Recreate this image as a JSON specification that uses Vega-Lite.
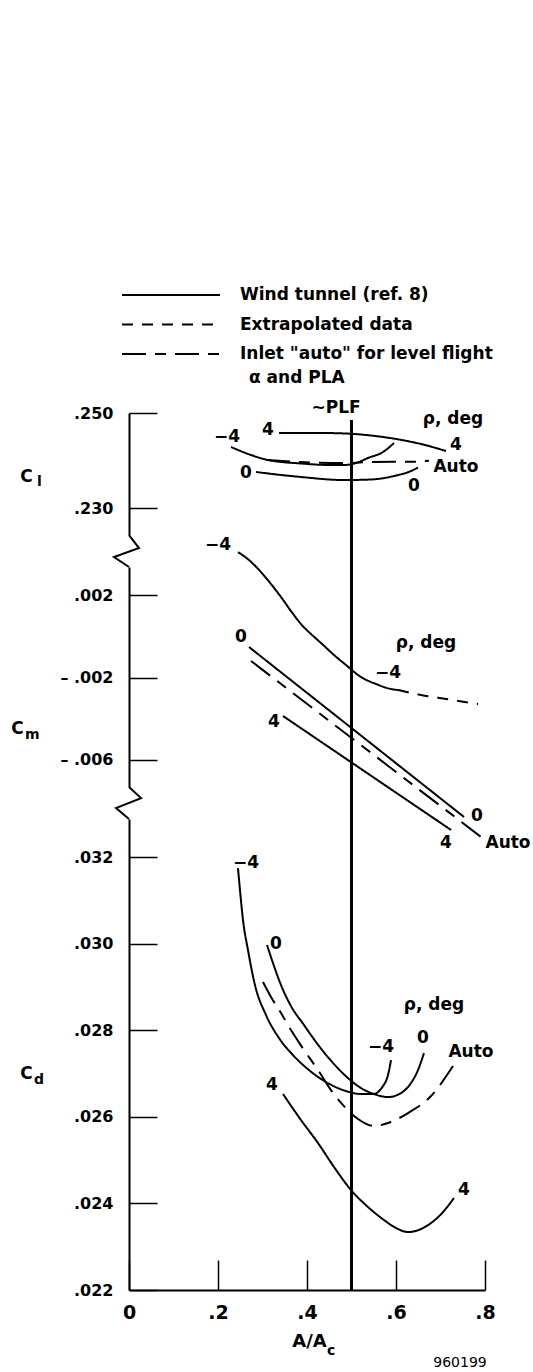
{
  "$schema": "https://vega.github.io/schema/vega-lite/v6.json",
  "padding": {"left": 10, "top": 284, "right": 0, "bottom": 0},
  "autosize": {"type": "pad"},
  "spacing": 32,
  "bounds": "flush",
  "resolve": {"scale": {"strokeDash": "independent"}, "legend": {"strokeDash": "independent"}},
  "datasets": {
    "cl": [
      {"curve": "p4", "style": "Wind tunnel (ref. 8)", "x": 0.3371, "y": 0.24579},
      {"curve": "p4", "style": "Wind tunnel (ref. 8)", "x": 0.3865, "y": 0.24579},
      {"curve": "p4", "style": "Wind tunnel (ref. 8)", "x": 0.4315, "y": 0.24579},
      {"curve": "p4", "style": "Wind tunnel (ref. 8)", "x": 0.4876, "y": 0.24568},
      {"curve": "p4", "style": "Wind tunnel (ref. 8)", "x": 0.5438, "y": 0.24526},
      {"curve": "p4", "style": "Wind tunnel (ref. 8)", "x": 0.6, "y": 0.24453},
      {"curve": "p4", "style": "Wind tunnel (ref. 8)", "x": 0.6562, "y": 0.24347},
      {"curve": "p4", "style": "Wind tunnel (ref. 8)", "x": 0.7124, "y": 0.242},
      {"curve": "m4", "style": "Wind tunnel (ref. 8)", "x": 0.2292, "y": 0.24284},
      {"curve": "m4", "style": "Wind tunnel (ref. 8)", "x": 0.2742, "y": 0.24116},
      {"curve": "m4", "style": "Wind tunnel (ref. 8)", "x": 0.3124, "y": 0.24011},
      {"curve": "m4", "style": "Wind tunnel (ref. 8)", "x": 0.3865, "y": 0.23937},
      {"curve": "m4", "style": "Wind tunnel (ref. 8)", "x": 0.4539, "y": 0.23905},
      {"curve": "m4", "style": "Wind tunnel (ref. 8)", "x": 0.4831, "y": 0.23905},
      {"curve": "m4", "style": "Wind tunnel (ref. 8)", "x": 0.5101, "y": 0.23947},
      {"curve": "m4", "style": "Wind tunnel (ref. 8)", "x": 0.5371, "y": 0.24053},
      {"curve": "m4", "style": "Wind tunnel (ref. 8)", "x": 0.5708, "y": 0.24179},
      {"curve": "m4", "style": "Wind tunnel (ref. 8)", "x": 0.5955, "y": 0.24368},
      {"curve": "auto", "style": "Inlet \"auto\" for level flight", "x": 0.3079, "y": 0.24011},
      {"curve": "auto", "style": "Inlet \"auto\" for level flight", "x": 0.3865, "y": 0.23968},
      {"curve": "auto", "style": "Inlet \"auto\" for level flight", "x": 0.4876, "y": 0.23947},
      {"curve": "auto", "style": "Inlet \"auto\" for level flight", "x": 0.5438, "y": 0.23968},
      {"curve": "auto", "style": "Inlet \"auto\" for level flight", "x": 0.6404, "y": 0.23975},
      {"curve": "auto", "style": "Inlet \"auto\" for level flight", "x": 0.6742, "y": 0.23996},
      {"curve": "z0", "style": "Wind tunnel (ref. 8)", "x": 0.2854, "y": 0.23758},
      {"curve": "z0", "style": "Wind tunnel (ref. 8)", "x": 0.3416, "y": 0.23695},
      {"curve": "z0", "style": "Wind tunnel (ref. 8)", "x": 0.3865, "y": 0.23653},
      {"curve": "z0", "style": "Wind tunnel (ref. 8)", "x": 0.4831, "y": 0.23589},
      {"curve": "z0", "style": "Wind tunnel (ref. 8)", "x": 0.5438, "y": 0.236},
      {"curve": "z0", "style": "Wind tunnel (ref. 8)", "x": 0.5955, "y": 0.23674},
      {"curve": "z0", "style": "Wind tunnel (ref. 8)", "x": 0.6337, "y": 0.23779},
      {"curve": "z0", "style": "Wind tunnel (ref. 8)", "x": 0.6494, "y": 0.23853}
    ],
    "cl_labels": [
      {"x": 0.4652, "y": 0.25105, "text": "~PLF"},
      {"x": 0.7281, "y": 0.24874, "text": "ρ, deg"},
      {"x": 0.3124, "y": 0.24642, "text": "4"},
      {"x": 0.2202, "y": 0.24495, "text": "−4"},
      {"x": 0.7348, "y": 0.24326, "text": "4"},
      {"x": 0.7348, "y": 0.23863, "text": "Auto"},
      {"x": 0.2629, "y": 0.23737, "text": "0"},
      {"x": 0.6404, "y": 0.23463, "text": "0"}
    ],
    "cl_note": [{"x": 0.2697, "y": 0.25737, "text": "α and PLA"}],
    "plf_cl": [{"x": 0.5, "y": 0.24853, "y2": 0.22432}],
    "sub_cl": [{"x": -0.2067, "y": 0.23547, "text": "l"}],
    "cm": [
      {"curve": "m4", "style": "Wind tunnel (ref. 8)", "x": 0.2449, "y": 0.004085},
      {"curve": "m4", "style": "Wind tunnel (ref. 8)", "x": 0.2697, "y": 0.003697},
      {"curve": "m4", "style": "Wind tunnel (ref. 8)", "x": 0.2966, "y": 0.003115},
      {"curve": "m4", "style": "Wind tunnel (ref. 8)", "x": 0.3191, "y": 0.002533},
      {"curve": "m4", "style": "Wind tunnel (ref. 8)", "x": 0.3416, "y": 0.001903},
      {"curve": "m4", "style": "Wind tunnel (ref. 8)", "x": 0.364, "y": 0.001224},
      {"curve": "m4", "style": "Wind tunnel (ref. 8)", "x": 0.3865, "y": 0.000594},
      {"curve": "m4", "style": "Wind tunnel (ref. 8)", "x": 0.409, "y": 0.000109},
      {"curve": "m4", "style": "Wind tunnel (ref. 8)", "x": 0.4315, "y": -0.000327},
      {"curve": "m4", "style": "Wind tunnel (ref. 8)", "x": 0.4607, "y": -0.000909},
      {"curve": "m4", "style": "Wind tunnel (ref. 8)", "x": 0.4876, "y": -0.001394},
      {"curve": "m4", "style": "Wind tunnel (ref. 8)", "x": 0.5213, "y": -0.001976},
      {"curve": "m4", "style": "Wind tunnel (ref. 8)", "x": 0.5551, "y": -0.002315},
      {"curve": "m4", "style": "Wind tunnel (ref. 8)", "x": 0.5888, "y": -0.002558},
      {"curve": "m4", "style": "Wind tunnel (ref. 8)", "x": 0.6045, "y": -0.002606},
      {"curve": "m4x", "style": "Extrapolated data", "x": 0.6045, "y": -0.002606},
      {"curve": "m4x", "style": "Extrapolated data", "x": 0.6562, "y": -0.002848},
      {"curve": "m4x", "style": "Extrapolated data", "x": 0.7124, "y": -0.003042},
      {"curve": "m4x", "style": "Extrapolated data", "x": 0.7843, "y": -0.003285},
      {"curve": "z0", "style": "Wind tunnel (ref. 8)", "x": 0.2697, "y": -0.000521},
      {"curve": "z0", "style": "Wind tunnel (ref. 8)", "x": 0.7528, "y": -0.008764},
      {"curve": "auto", "style": "Inlet \"auto\" for level flight", "x": 0.2742, "y": -0.0012},
      {"curve": "auto", "style": "Inlet \"auto\" for level flight", "x": 0.791, "y": -0.009733},
      {"curve": "p4", "style": "Wind tunnel (ref. 8)", "x": 0.3461, "y": -0.003867},
      {"curve": "p4", "style": "Wind tunnel (ref. 8)", "x": 0.7236, "y": -0.009394}
    ],
    "cm_labels": [
      {"x": 0.2, "y": 0.004424, "text": "−4"},
      {"x": 0.2517, "y": -0.000036, "text": "0"},
      {"x": 0.6674, "y": -0.000327, "text": "ρ, deg"},
      {"x": 0.582, "y": -0.001782, "text": "−4"},
      {"x": 0.3258, "y": -0.004158, "text": "4"},
      {"x": 0.782, "y": -0.008715, "text": "0"},
      {"x": 0.7124, "y": -0.010024, "text": "4"},
      {"x": 0.8517, "y": -0.010024, "text": "Auto"}
    ],
    "plf_cm": [{"x": 0.5, "y": 0.00491, "y2": -0.00731}],
    "zig1": [
      {"i": 0, "x": 0, "y": 0.004909},
      {"i": 1, "x": 0.0225, "y": 0.004279},
      {"i": 2, "x": -0.0337, "y": 0.003842},
      {"i": 3, "x": 0, "y": 0.003358}
    ],
    "sub_cm": [{"x": -0.2337, "y": -0.004788, "text": "m"}],
    "cd": [
      {"curve": "m4", "style": "Wind tunnel (ref. 8)", "x": 0.2449, "y": 0.031746},
      {"curve": "m4", "style": "Wind tunnel (ref. 8)", "x": 0.2494, "y": 0.031238},
      {"curve": "m4", "style": "Wind tunnel (ref. 8)", "x": 0.2562, "y": 0.030545},
      {"curve": "m4", "style": "Wind tunnel (ref. 8)", "x": 0.2674, "y": 0.029852},
      {"curve": "m4", "style": "Wind tunnel (ref. 8)", "x": 0.2831, "y": 0.029044},
      {"curve": "m4", "style": "Wind tunnel (ref. 8)", "x": 0.3079, "y": 0.028351},
      {"curve": "m4", "style": "Wind tunnel (ref. 8)", "x": 0.3371, "y": 0.02782},
      {"curve": "m4", "style": "Wind tunnel (ref. 8)", "x": 0.3685, "y": 0.027427},
      {"curve": "m4", "style": "Wind tunnel (ref. 8)", "x": 0.4045, "y": 0.027081},
      {"curve": "m4", "style": "Wind tunnel (ref. 8)", "x": 0.4427, "y": 0.026804},
      {"curve": "m4", "style": "Wind tunnel (ref. 8)", "x": 0.4876, "y": 0.026596},
      {"curve": "m4", "style": "Wind tunnel (ref. 8)", "x": 0.5213, "y": 0.026527},
      {"curve": "m4", "style": "Wind tunnel (ref. 8)", "x": 0.5483, "y": 0.026527},
      {"curve": "m4", "style": "Wind tunnel (ref. 8)", "x": 0.5708, "y": 0.026711},
      {"curve": "m4", "style": "Wind tunnel (ref. 8)", "x": 0.582, "y": 0.026965},
      {"curve": "m4", "style": "Wind tunnel (ref. 8)", "x": 0.5888, "y": 0.027312},
      {"curve": "z0", "style": "Wind tunnel (ref. 8)", "x": 0.3101, "y": 0.029968},
      {"curve": "z0", "style": "Wind tunnel (ref. 8)", "x": 0.3236, "y": 0.029552},
      {"curve": "z0", "style": "Wind tunnel (ref. 8)", "x": 0.3416, "y": 0.029044},
      {"curve": "z0", "style": "Wind tunnel (ref. 8)", "x": 0.364, "y": 0.028559},
      {"curve": "z0", "style": "Wind tunnel (ref. 8)", "x": 0.3933, "y": 0.02812},
      {"curve": "z0", "style": "Wind tunnel (ref. 8)", "x": 0.427, "y": 0.027635},
      {"curve": "z0", "style": "Wind tunnel (ref. 8)", "x": 0.4607, "y": 0.027219},
      {"curve": "z0", "style": "Wind tunnel (ref. 8)", "x": 0.4921, "y": 0.026896},
      {"curve": "z0", "style": "Wind tunnel (ref. 8)", "x": 0.5213, "y": 0.026665},
      {"curve": "z0", "style": "Wind tunnel (ref. 8)", "x": 0.5506, "y": 0.026527},
      {"curve": "z0", "style": "Wind tunnel (ref. 8)", "x": 0.582, "y": 0.026457},
      {"curve": "z0", "style": "Wind tunnel (ref. 8)", "x": 0.6112, "y": 0.02655},
      {"curve": "z0", "style": "Wind tunnel (ref. 8)", "x": 0.6337, "y": 0.026781},
      {"curve": "z0", "style": "Wind tunnel (ref. 8)", "x": 0.6494, "y": 0.027081},
      {"curve": "z0", "style": "Wind tunnel (ref. 8)", "x": 0.6629, "y": 0.027473},
      {"curve": "auto", "style": "Inlet \"auto\" for level flight", "x": 0.3011, "y": 0.029113},
      {"curve": "auto", "style": "Inlet \"auto\" for level flight", "x": 0.3191, "y": 0.028767},
      {"curve": "auto", "style": "Inlet \"auto\" for level flight", "x": 0.3416, "y": 0.028397},
      {"curve": "auto", "style": "Inlet \"auto\" for level flight", "x": 0.364, "y": 0.028005},
      {"curve": "auto", "style": "Inlet \"auto\" for level flight", "x": 0.3933, "y": 0.027543},
      {"curve": "auto", "style": "Inlet \"auto\" for level flight", "x": 0.4247, "y": 0.027081},
      {"curve": "auto", "style": "Inlet \"auto\" for level flight", "x": 0.4539, "y": 0.026619},
      {"curve": "auto", "style": "Inlet \"auto\" for level flight", "x": 0.4831, "y": 0.026249},
      {"curve": "auto", "style": "Inlet \"auto\" for level flight", "x": 0.5146, "y": 0.025949},
      {"curve": "auto", "style": "Inlet \"auto\" for level flight", "x": 0.5506, "y": 0.025788},
      {"curve": "auto", "style": "Inlet \"auto\" for level flight", "x": 0.582, "y": 0.025857},
      {"curve": "auto", "style": "Inlet \"auto\" for level flight", "x": 0.627, "y": 0.026088},
      {"curve": "auto", "style": "Inlet \"auto\" for level flight", "x": 0.6787, "y": 0.02648},
      {"curve": "auto", "style": "Inlet \"auto\" for level flight", "x": 0.7281, "y": 0.027173},
      {"curve": "p4", "style": "Wind tunnel (ref. 8)", "x": 0.3461, "y": 0.026527},
      {"curve": "p4", "style": "Wind tunnel (ref. 8)", "x": 0.3865, "y": 0.025926},
      {"curve": "p4", "style": "Wind tunnel (ref. 8)", "x": 0.4247, "y": 0.025395},
      {"curve": "p4", "style": "Wind tunnel (ref. 8)", "x": 0.4607, "y": 0.024841},
      {"curve": "p4", "style": "Wind tunnel (ref. 8)", "x": 0.4989, "y": 0.024309},
      {"curve": "p4", "style": "Wind tunnel (ref. 8)", "x": 0.5371, "y": 0.023917},
      {"curve": "p4", "style": "Wind tunnel (ref. 8)", "x": 0.573, "y": 0.023617},
      {"curve": "p4", "style": "Wind tunnel (ref. 8)", "x": 0.6, "y": 0.023432},
      {"curve": "p4", "style": "Wind tunnel (ref. 8)", "x": 0.627, "y": 0.023339},
      {"curve": "p4", "style": "Wind tunnel (ref. 8)", "x": 0.6562, "y": 0.023409},
      {"curve": "p4", "style": "Wind tunnel (ref. 8)", "x": 0.6787, "y": 0.023547},
      {"curve": "p4", "style": "Wind tunnel (ref. 8)", "x": 0.7056, "y": 0.023801},
      {"curve": "p4", "style": "Wind tunnel (ref. 8)", "x": 0.7303, "y": 0.024125}
    ],
    "cd_labels": [
      {"x": 0.2629, "y": 0.031861, "text": "−4"},
      {"x": 0.3303, "y": 0.029991, "text": "0"},
      {"x": 0.6854, "y": 0.028582, "text": "ρ, deg"},
      {"x": 0.5663, "y": 0.027612, "text": "−4"},
      {"x": 0.6607, "y": 0.02782, "text": "0"},
      {"x": 0.7685, "y": 0.027497, "text": "Auto"},
      {"x": 0.3213, "y": 0.026734, "text": "4"},
      {"x": 0.7528, "y": 0.024309, "text": "4"}
    ],
    "plf_cd": [{"x": 0.5, "y": 0.03362, "y2": 0.022}],
    "zig2": [
      {"i": 0, "x": 0, "y": 0.033617},
      {"i": 1, "x": 0.027, "y": 0.033363},
      {"i": 2, "x": -0.0292, "y": 0.033132},
      {"i": 3, "x": 0, "y": 0.032878}
    ],
    "sub_cd": [
      {"x": -0.2135, "y": 0.02685, "text": "d"},
      {"x": 0.4449, "y": 0.020591, "text": "c"}
    ],
    "cd_note": [{"x": 0.7438, "y": 0.020314, "text": "960199"}]
  },
  "vconcat": [
    {
      "width": 356,
      "height": 122,
      "encoding": {
        "x": {"field": "x", "type": "quantitative", "scale": {"domain": [0, 0.8], "nice": false, "zero": false}, "axis": null},
        "y": {"field": "y", "type": "quantitative", "scale": {"domain": [0.22432, 0.25], "nice": false, "zero": false},
          "axis": {"values": [0.25, 0.23], "title": "C", "titleX": -103, "titleY": 63}}
      },
      "layer": [
        {
          "data": {"name": "cl"},
          "mark": {"type": "line", "interpolate": "monotone", "strokeWidth": 2, "color": "black"},
          "encoding": {
            "detail": {"field": "curve"},
            "strokeDash": {
              "field": "style", "type": "nominal",
              "scale": {"domain": ["Wind tunnel (ref. 8)", "Extrapolated data", "Inlet \"auto\" for level flight"], "range": [[1, 0], [11, 9], [24, 9, 11, 9]]},
              "legend": {"orient": "none", "legendX": 31, "legendY": -129, "title": null, "symbolType": "M-5,0H5", "symbolSize": 384, "symbolStrokeWidth": 2, "symbolStrokeColor": "black", "labelFont": "DejaVu Sans", "labelFontWeight": "bold", "labelFontSize": 17, "labelColor": "black", "labelOffset": 58, "rowPadding": 10.5, "labelLimit": 400, "padding": 0}
            }
          }
        },
        {
          "data": {"name": "plf_cl"},
          "mark": {"type": "rule", "strokeWidth": 3, "color": "black"},
          "encoding": {"y2": {"field": "y2"}}
        },
        {
          "data": {"name": "cl_labels"},
          "mark": {"type": "text", "font": "DejaVu Sans", "fontWeight": "bold", "fontSize": 17, "align": "center", "baseline": "middle", "color": "black"},
          "encoding": {"text": {"field": "text"}}
        },
        {
          "data": {"name": "cl_note"},
          "mark": {"type": "text", "font": "DejaVu Sans", "fontWeight": "bold", "fontSize": 17, "align": "left", "baseline": "middle", "color": "black"},
          "encoding": {"text": {"field": "text"}}
        },
        {
          "data": {"name": "sub_cl"},
          "mark": {"type": "text", "font": "DejaVu Sans", "fontWeight": "bold", "fontSize": 14, "align": "left", "baseline": "middle", "color": "black"},
          "encoding": {"text": {"field": "text"}}
        }
      ]
    },
    {
      "width": 356,
      "height": 220,
      "encoding": {
        "x": {"field": "x", "type": "quantitative", "scale": {"domain": [0, 0.8], "nice": false, "zero": false}, "axis": null},
        "y": {"field": "y", "type": "quantitative", "scale": {"domain": [-0.00731, 0.00336], "nice": false, "zero": false},
          "axis": {"values": [0.002, -0.002, -0.006], "title": "C", "titleX": -112, "titleY": 161}}
      },
      "layer": [
        {
          "data": {"name": "cm"},
          "mark": {"type": "line", "interpolate": "monotone", "strokeWidth": 2, "color": "black"},
          "encoding": {
            "detail": {"field": "curve"},
            "strokeDash": {
              "field": "style", "type": "nominal",
              "scale": {"domain": ["Wind tunnel (ref. 8)", "Extrapolated data", "Inlet \"auto\" for level flight"], "range": [[1, 0], [11, 9], [24, 9, 11, 9]]},
              "legend": null
            }
          }
        },
        {
          "data": {"name": "zig1"},
          "mark": {"type": "line", "strokeWidth": 2, "color": "black"},
          "encoding": {"order": {"field": "i", "type": "quantitative"}}
        },
        {
          "data": {"name": "plf_cm"},
          "mark": {"type": "rule", "strokeWidth": 3, "color": "black"},
          "encoding": {"y2": {"field": "y2"}}
        },
        {
          "data": {"name": "cm_labels"},
          "mark": {"type": "text", "font": "DejaVu Sans", "fontWeight": "bold", "fontSize": 17, "align": "center", "baseline": "middle", "color": "black"},
          "encoding": {"text": {"field": "text"}}
        },
        {
          "data": {"name": "sub_cm"},
          "mark": {"type": "text", "font": "DejaVu Sans", "fontWeight": "bold", "fontSize": 14, "align": "left", "baseline": "middle", "color": "black"},
          "encoding": {"text": {"field": "text"}}
        }
      ]
    },
    {
      "width": 356,
      "height": 471,
      "encoding": {
        "x": {"field": "x", "type": "quantitative", "scale": {"domain": [0, 0.8], "nice": false, "zero": false},
          "axis": {"values": [0, 0.2, 0.4, 0.6, 0.8], "title": "A/A", "titleX": 180, "titleY": 51, "titleFontSize": 18, "tickSize": -30, "labelPadding": 43, "labelFontSize": 19,
            "labelExpr": "datum.value == 0 ? '0' : substring(format(datum.value, '.1f'), 1)"}},
        "y": {"field": "y", "type": "quantitative", "scale": {"domain": [0.022, 0.03288], "nice": false, "zero": false},
          "axis": {"values": [0.032, 0.03, 0.028, 0.026, 0.024, 0.022], "title": "C", "titleX": -103, "titleY": 254}}
      },
      "layer": [
        {
          "data": {"name": "cd"},
          "mark": {"type": "line", "interpolate": "monotone", "strokeWidth": 2, "color": "black"},
          "encoding": {
            "detail": {"field": "curve"},
            "strokeDash": {
              "field": "style", "type": "nominal",
              "scale": {"domain": ["Wind tunnel (ref. 8)", "Extrapolated data", "Inlet \"auto\" for level flight"], "range": [[1, 0], [11, 9], [24, 9, 11, 9]]},
              "legend": null
            }
          }
        },
        {
          "data": {"name": "zig2"},
          "mark": {"type": "line", "strokeWidth": 2, "color": "black"},
          "encoding": {"order": {"field": "i", "type": "quantitative"}}
        },
        {
          "data": {"name": "plf_cd"},
          "mark": {"type": "rule", "strokeWidth": 3, "color": "black"},
          "encoding": {"y2": {"field": "y2"}}
        },
        {
          "data": {"name": "cd_labels"},
          "mark": {"type": "text", "font": "DejaVu Sans", "fontWeight": "bold", "fontSize": 17, "align": "center", "baseline": "middle", "color": "black"},
          "encoding": {"text": {"field": "text"}}
        },
        {
          "data": {"name": "sub_cd"},
          "mark": {"type": "text", "font": "DejaVu Sans", "fontWeight": "bold", "fontSize": 14, "align": "left", "baseline": "middle", "color": "black"},
          "encoding": {"text": {"field": "text"}}
        },
        {
          "data": {"name": "cd_note"},
          "mark": {"type": "text", "font": "DejaVu Sans", "fontWeight": "normal", "fontSize": 14, "align": "center", "baseline": "middle", "color": "black"},
          "encoding": {"text": {"field": "text"}}
        }
      ]
    }
  ],
  "config": {
    "view": {"stroke": null},
    "font": "DejaVu Sans",
    "axis": {
      "grid": false,
      "domainColor": "black",
      "domainWidth": 2,
      "tickColor": "black",
      "tickWidth": 1.5,
      "tickSize": -28,
      "labelPadding": 44,
      "labelFont": "DejaVu Sans",
      "labelFontWeight": "bold",
      "labelFontSize": 16,
      "labelColor": "black",
      "labelFlush": false,
      "labelOverlap": false,
      "labelExpr": "(datum.value < 0 ? '– ' : '') + substring(format(abs(datum.value), '.3f'), 1)",
      "titleFont": "DejaVu Sans",
      "titleFontWeight": "bold",
      "titleFontSize": 17,
      "titleColor": "black",
      "titleAngle": 0,
      "titleAlign": "center",
      "titleBaseline": "middle"
    }
  }
}
